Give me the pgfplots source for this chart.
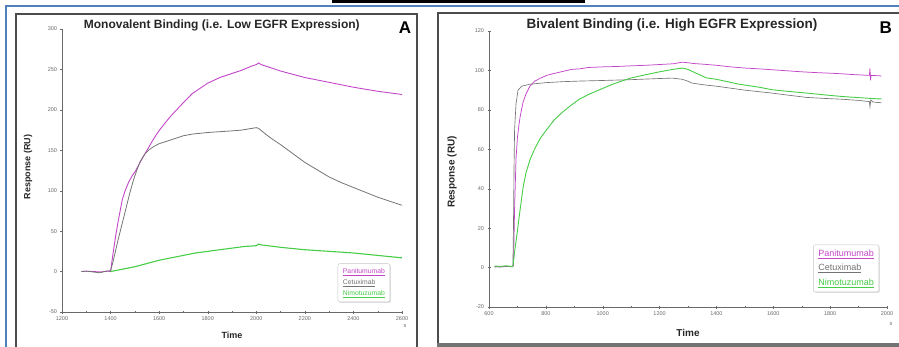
\documentclass[border=0pt]{standalone}
\usepackage{fontspec}
\setmainfont{Liberation Sans}
\usepackage{pgfplots}
\pgfplotsset{compat=1.18}
\usetikzlibrary{shadows}
\definecolor{mag}{RGB}{195,70,200}
\definecolor{cet}{RGB}{115,115,115}
\definecolor{nim}{RGB}{70,205,70}
\definecolor{wordblue}{RGB}{79,129,189}
\definecolor{axgray}{RGB}{105,105,105}
\pgfplotsset{
  spr/.style={
    scale only axis, clip=false,
    axis lines=left, axis line style={-, axgray, line width=0.5pt},
    tick align=center, major tick length=3pt, minor tick length=2pt,
    tick style={axgray, line width=0.4pt},
    minor x tick num=1,
    /pgf/number format/assume math mode=true,
    /pgf/number format/1000 sep={},
    tick label style={font=\fontsize{5.5}{6}\selectfont, text=axgray},
    label style={font=\bfseries\fontsize{9}{10}\selectfont, text=black!85},
    legend cell align=left,
    legend image code/.code={},
    legend style={draw=gray!45, rounded corners=2pt, fill=white,
      drop shadow={opacity=0.25, shadow xshift=1pt, shadow yshift=-1pt},
      inner xsep=3pt, inner ysep=3pt},
  }
}
\begin{document}
\begin{tikzpicture}
\useasboundingbox (0pt,0pt) rectangle (899pt,-347pt);
% page decorations
\fill[black] (332pt,0pt) rectangle (585pt,-3.5pt);
\draw[wordblue, line width=2pt] (6pt,-348pt) -- (6pt,-6pt) -- (900pt,-6pt);
\draw[black!70, line width=1.6pt] (16pt,-350pt) -- (16pt,-14pt) -- (417pt,-14pt) -- (417pt,-350pt);
\draw[black!70, line width=1.6pt] (438pt,-343pt) -- (438pt,-13pt) -- (900pt,-13pt);
\fill[black!55] (437pt,-343pt) rectangle (900pt,-348pt);

% ---------------- Panel A ----------------
\begin{axis}[spr,
  at={(62pt,-312pt)}, anchor=south west,
  width=340pt, height=283pt,
  xmin=1200, xmax=2600, ymin=-50, ymax=300,
  xtick={1200,1400,...,2600}, ytick={-50,0,...,300},
  xlabel={Time}, ylabel={Response (RU)},
  x label style={at={(axis description cs:0.5,-0.081)}, anchor=center},
  y label style={at={(axis description cs:-0.1,0.512)}, anchor=center},
  title={Monovalent Binding (i.e. Low EGFR Expression)},
  title style={at={(axis description cs:0.47,0.993)}, anchor=center, font=\bfseries\fontsize{12}{14}\selectfont, text=black!85},
  legend style={at={(axis description cs:0.965,0.035)}, anchor=south east, font=\fontsize{6.8}{7}\selectfont, row sep=0.5pt},
]
\addplot[mag, line width=0.9pt] coordinates {
(1280,0) (1300,0.5) (1330,0) (1360,-0.5) (1390,0.5) (1400,0) (1410,22) (1420,42) (1430,60) (1440,76) (1449,90) (1460,100) (1475,111) (1490,119) (1502,124) (1525,137) (1550,150) (1575,163) (1599,174) (1625,184) (1650,193) (1700,209) (1736,220) (1775,228) (1800,233) (1850,240) (1900,245) (1940,249) (1980,254) (2000,256) (2010,258) (2020,256) (2060,252) (2100,248) (2200,240) (2300,234) (2400,228) (2500,223) (2600,219)
};
\addlegendentry{\textcolor{mag}{\underline{Panitumumab}}}
\addplot[cet, line width=0.8pt] coordinates {
(1280,0) (1300,0.5) (1330,-0.5) (1355,-1.5) (1380,0.5) (1400,1) (1410,12) (1420,25) (1430,38) (1440,50) (1450,62) (1465,80) (1480,98) (1495,114) (1510,127) (1522,136) (1540,145) (1560,151) (1580,155) (1599,158) (1650,163) (1700,168) (1736,170) (1800,172) (1850,173) (1900,174) (1940,175) (1980,177) (2000,178) (2010,177) (2030,172) (2060,165) (2100,157) (2150,146) (2200,135) (2250,126) (2300,117) (2350,110) (2400,104) (2450,98) (2500,92) (2550,87) (2600,82)
};
\addlegendentry{\textcolor{cet}{\underline{Cetuximab}}}
\addplot[nim, line width=1.1pt] coordinates {
(1400,0) (1450,3) (1500,6) (1550,10) (1600,14) (1650,17) (1700,20) (1750,23) (1800,25) (1850,27) (1900,29) (1950,31) (2000,32) (2010,34) (2020,33) (2100,30) (2200,27) (2300,25) (2400,23) (2500,20) (2600,17)
};
\addlegendentry{\textcolor{nim}{\underline{Nimotuzumab}}}
\node[font=\bfseries\fontsize{17}{18}\selectfont] at (axis description cs:1.009,1.004) {A};
\node[font=\fontsize{5.5}{6}\selectfont, text=axgray] at (axis description cs:1.009,-0.05) {s};
\end{axis}

% ---------------- Panel B ----------------
\begin{axis}[spr,
  at={(489pt,-307pt)}, anchor=south west,
  width=398pt, height=276pt,
  xmin=600, xmax=2000, ymin=-20, ymax=120,
  xtick={600,800,...,2000}, ytick={-20,0,...,120},
  xlabel={Time}, ylabel={Response (RU)},
  label style={font=\bfseries\fontsize{10}{11}\selectfont},
  x label style={at={(axis description cs:0.5,-0.094)}, anchor=center},
  y label style={at={(axis description cs:-0.093,0.489)}, anchor=center},
  title={Bivalent Binding (i.e. High EGFR Expression)},
  title style={at={(axis description cs:0.46,1.0)}, anchor=center, font=\bfseries\fontsize{13.5}{15}\selectfont, text=black!85},
  legend style={at={(axis description cs:0.98,0.054)}, anchor=south east, font=\fontsize{9}{10}\selectfont, row sep=2.5pt},
]
\addplot[mag, line width=0.75pt] coordinates {
(620,0.5) (640,0.3) (660,0.6) (680,0.4) (686,1) (690,30) (695,55) (700,66) (705,72) (710,77) (720,84) (730,88) (744,92) (760,94.5) (780,96) (803,97.5) (830,98.5) (860,99.5) (890,100.5) (919,100.8) (950,101.5) (1000,101.8) (1050,102) (1095,102.3) (1150,102.6) (1200,103) (1250,103.4) (1280,104.2) (1300,103.9) (1320,103.5) (1350,103.2) (1400,102.6) (1450,101.8) (1500,101.2) (1550,100.8) (1600,100.3) (1650,99.8) (1700,99.3) (1750,98.9) (1800,98.6) (1840,98.3) (1880,97.9) (1920,97.6) (1938,97.5) (1940,101) (1942,95) (1944,97.5) (1980,97.2)
};
\addlegendentry{\textcolor{mag}{\underline{Panitumumab}}}
\addplot[cet, line width=0.65pt] coordinates {
(620,0.3) (650,0.5) (684,0.5) (686,20) (688,50) (690,70) (695,83) (702,90) (715,92) (744,93) (800,93.8) (860,94.3) (919,94.6) (1000,94.9) (1095,95.3) (1150,95.6) (1200,95.9) (1245,96.1) (1280,95.5) (1300,94.5) (1314,93.6) (1350,92.8) (1400,92) (1450,91) (1500,90) (1596,88.5) (1650,87.5) (1718,86.3) (1780,85.8) (1840,85.4) (1900,84.8) (1938,84.2) (1940,81.5) (1943,85) (1950,84) (1980,83.6)
};
\addlegendentry{\textcolor{cet}{\underline{Cetuximab}}}
\addplot[nim, line width=0.9pt] coordinates {
(620,0.8) (640,0.6) (660,0.9) (684,0.5) (690,8) (698,16.5) (710,30) (720,40.7) (730,48) (744,54.6) (760,60) (780,65.5) (803,70) (830,75) (860,79) (890,82.5) (919,85.5) (950,87.8) (979,89.6) (1010,91.5) (1035,93) (1095,96) (1150,97.8) (1200,99.3) (1250,100.6) (1280,101.2) (1300,100.5) (1330,98.5) (1365,96.2) (1400,95.5) (1480,93) (1550,91.5) (1596,90.2) (1650,89.4) (1718,88.5) (1780,87.6) (1840,86.8) (1900,86.2) (1965,85.6) (1980,85.6)
};
\addlegendentry{\textcolor{nim}{\underline{Nimotuzumab}}}
\node[font=\bfseries\fontsize{17}{18}\selectfont] at (axis description cs:0.997,1.011) {B};
\node[font=\fontsize{5.5}{6}\selectfont, text=axgray] at (axis description cs:1.01,-0.062) {s};
\end{axis}
\end{tikzpicture}
\end{document}
